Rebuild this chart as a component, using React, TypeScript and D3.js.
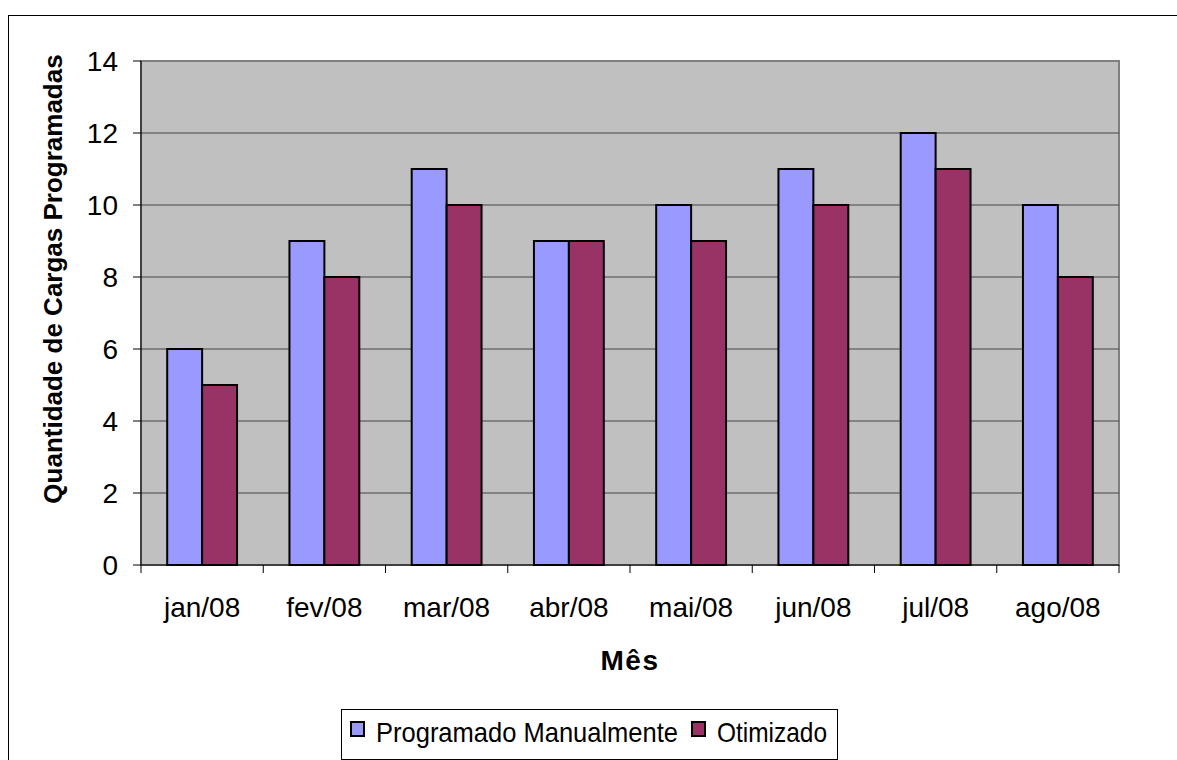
import React from "react";
import * as d3 from "d3";

const months = ["jan/08", "fev/08", "mar/08", "abr/08", "mai/08", "jun/08", "jul/08", "ago/08"];
const manual = [6, 9, 11, 9, 10, 11, 12, 10];
const otimizado = [5, 8, 10, 9, 9, 10, 11, 8];
const seriesNames = ["Programado Manualmente", "Otimizado"];
const seriesColors = ["#9999FF", "#993366"];
const yTicks = [0, 2, 4, 6, 8, 10, 12, 14];

const W = 1177;
const H = 760;
const left = 141, right = 1119, top = 61, bottom = 565;
const font = "Arial, 'Liberation Sans', sans-serif";

export default function App() {
  const x = d3.scaleBand().domain(months).range([left, right]).padding(0);
  const bw = x.bandwidth();
  const barW = bw / 3.5;
  const x1 = d3.scaleBand().domain(seriesNames).range([0, barW * 2]).padding(0);
  const y = d3.scaleLinear().domain([0, 14]).range([bottom, top]);
  const values = [manual, otimizado];

  return (
    <svg width={W} height={H} style={{ position: "absolute", left: 0, top: 0, background: "#fff" }}>
      {/* outer chart border */}
      <rect x={8.5} y={15.5} width={1300} height={900} fill="none" stroke="#000" strokeWidth={1} />

      {/* plot area */}
      <rect x={left} y={top} width={right - left} height={bottom - top} fill="#C0C0C0" stroke="#808080" strokeWidth={2} />

      {/* gridlines */}
      {yTicks.slice(1, -1).map((t) => (
        <line key={"g" + t} x1={left} x2={right} y1={y(t)} y2={y(t)} stroke="#444" strokeWidth={1} />
      ))}

      {/* bars */}
      {values.map((vals, si) =>
        months.map((m, i) => (
          <rect
            key={si + "-" + m}
            x={(x(m) as number) + barW * 0.75 + (x1(seriesNames[si]) as number)}
            y={y(vals[i])}
            width={x1.bandwidth()}
            height={y(0) - y(vals[i])}
            fill={seriesColors[si]}
            stroke="#000"
            strokeWidth={2}
          />
        ))
      )}

      {/* axes */}
      <line x1={left} x2={left} y1={top} y2={bottom} stroke="#000" strokeWidth={1} />
      <line x1={left} x2={right} y1={bottom} y2={bottom} stroke="#000" strokeWidth={1} />
      {yTicks.map((t) => (
        <g key={"y" + t}>
          <line x1={left - 8} x2={left} y1={y(t)} y2={y(t)} stroke="#000" strokeWidth={1} />
          <text x={118} y={y(t)} dy="0.36em" textAnchor="end" fontFamily={font} fontSize={28} fill="#000">
            {t}
          </text>
        </g>
      ))}
      {months.map((m) => (
        <line key={"xt" + m} x1={x(m) as number} x2={x(m) as number} y1={bottom} y2={bottom + 8} stroke="#000" strokeWidth={1} />
      ))}
      <line x1={right} x2={right} y1={bottom} y2={bottom + 8} stroke="#000" strokeWidth={1} />
      {months.map((m) => (
        <text key={"xl" + m} x={(x(m) as number) + bw / 2} y={617} textAnchor="middle" fontFamily={font} fontSize={28} fill="#000">
          {m}
        </text>
      ))}

      {/* axis titles */}
      <text x={(left + right) / 2} y={670} textAnchor="middle" fontFamily={font} fontSize={28} fontWeight="bold" letterSpacing={1.5} fill="#000">
        Mês
      </text>
      <text
        transform={`translate(62, 279) rotate(-90)`}
        textAnchor="middle"
        fontFamily={font}
        fontSize={26}
        fontWeight="bold"
        fill="#000"
      >
        Quantidade de Cargas Programadas
      </text>

      {/* legend */}
      <rect x={341.5} y={709.5} width={496} height={50} fill="#fff" stroke="#000" strokeWidth={1} />
      <rect x={351} y={722} width={13} height={14} fill={seriesColors[0]} stroke="#000" strokeWidth={2} />
      <text x={376} y={742} fontFamily={font} fontSize={28} textLength={302} lengthAdjust="spacingAndGlyphs" fill="#000">
        {seriesNames[0]}
      </text>
      <rect x={692} y={722} width={13} height={14} fill={seriesColors[1]} stroke="#000" strokeWidth={2} />
      <text x={717} y={742} fontFamily={font} fontSize={28} textLength={110} lengthAdjust="spacingAndGlyphs" fill="#000">
        {seriesNames[1]}
      </text>
    </svg>
  );
}
